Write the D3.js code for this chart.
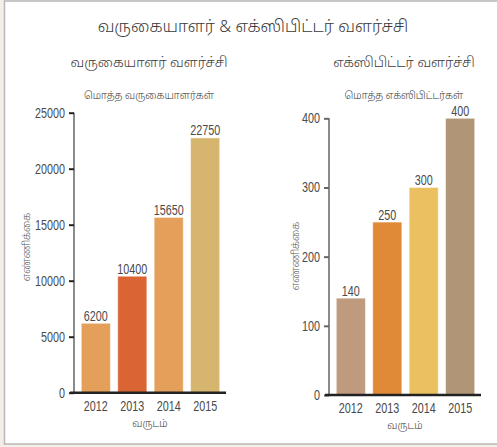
<!DOCTYPE html>
<html lang="ta">
<head>
    <meta charset="UTF-8">
    <title>வருகையாளர் & எக்ஸிபிட்டர் வளர்ச்சி</title>
    <style>
        body { margin: 0; background: #f4eee9; }
        svg { display: block; }
        .num { font-family: 'Liberation Sans', Arial, sans-serif; font-size: 14px; fill: #4a4a4a; }
        .ta { font-family: 'Noto Sans Tamil', 'Lohit Tamil', 'Noto Sans', sans-serif; fill: #3a3a3a; font-weight: 300; }
    </style>
</head>
<body>
    <div id='chart'></div>

    <script src='https://cdnjs.cloudflare.com/ajax/libs/d3/7.8.5/d3.min.js'></script>
    <script type='text/javascript'>
        const years = ['2012', '2013', '2014', '2015'];
        const visitors = [6200, 10400, 15650, 22750];
        const exhibitors = [140, 250, 300, 400];
        const visitorColors = ['#e4a05a', '#db6434', '#e4a05a', '#d6b56e'];
        const exhibitorColors = ['#bf9a7e', '#e08a38', '#eac060', '#b09576'];
        const visitorTicks = [0, 5000, 10000, 15000, 20000, 25000];
        const exhibitorTicks = [0, 100, 200, 300, 400];

        const width = 497;
        const height = 447;
        const squeeze = 0.77;   // numbers in the original use a narrow face

        let svg = d3.select('#chart')
                    .append('svg')
                      .attr('width', width)
                      .attr('height', height);

        // white panel with grey edge
        svg.append('rect')
            .attr('x', 4.5).attr('y', 1)
            .attr('width', width + 10).attr('height', 443)
            .attr('fill', '#fff')
            .attr('stroke', '#b8b8b8')
            .attr('stroke-width', 1.5);

        svg.append('text')
            .attr('class', 'ta')
            .attr('x', 253).attr('y', 32)
            .attr('text-anchor', 'middle')
            .style('font-size', '16.5px')
            .text('வருகையாளர் & எக்ஸிபிட்டர் வளர்ச்சி');

        function drawChart(opt) {
            let g = svg.append('g');

            let x = d3.scaleBand().domain(years)
                        .range([opt.left, opt.left + 153])
                        .paddingInner(0.2).paddingOuter(0.2);
            let y = d3.scaleLinear().domain([0, d3.max(opt.ticks)])
                        .range([opt.bottom, opt.top]);

            let cx = opt.left + 76;

            g.append('text').attr('class', 'ta')
                .attr('x', cx - 1).attr('y', 67)
                .attr('text-anchor', 'middle')
                .style('font-size', '13.5px')
                .text(opt.title);

            g.append('text').attr('class', 'ta')
                .attr('x', cx - 1).attr('y', 99)
                .attr('text-anchor', 'middle')
                .style('font-size', '10px')
                .text(opt.subtitle);

            // bars
            g.selectAll('rect.bar')
                .data(opt.values)
                .enter()
              .append('rect')
                .attr('class', 'bar')
                .attr('x', (d, i) => x(years[i]))
                .attr('y', d => y(d))
                .attr('width', x.bandwidth())
                .attr('height', d => y(0) - y(d))
                .attr('fill', (d, i) => opt.colors[i])
                .attr('stroke', 'rgba(255,255,255,0.5)')
                .attr('stroke-width', 1);

            g.selectAll('text.val')
                .data(opt.values)
                .enter()
              .append('text')
                .attr('class', 'val num')
                .attr('transform', (d, i) => `translate(${x(years[i]) + x.bandwidth() / 2}, ${y(d) - 2.5}) scale(${squeeze}, 1)`)
                .attr('text-anchor', 'middle')
                .text(d => d);

            // y axis
            let yAxis = g.append('g')
                .attr('transform', `translate(${opt.left}, 0)`)
                .call(d3.axisLeft(y).tickValues(opt.ticks).tickFormat(d3.format('d')).tickSize(5).tickPadding(4));
            yAxis.select('.domain')
                .attr('d', `M0,${opt.bottom}V${opt.top}`)
                .attr('stroke', '#8a8a8a')
                .attr('stroke-width', 2);
            yAxis.selectAll('.tick line')
                .attr('stroke', opt.tickColor)
                .attr('stroke-width', 2);
            yAxis.selectAll('.tick text')
                .attr('class', 'num')
                .attr('x', -9 / squeeze)
                .attr('transform', `scale(${squeeze}, 1)`);

            // x axis
            let xAxis = g.append('g')
                .attr('transform', `translate(0, ${opt.bottom})`)
                .call(d3.axisBottom(x).tickSize(0).tickPadding(8));
            xAxis.select('.domain')
                .attr('d', `M${opt.left - 4},0H${opt.left + 152}`)
                .attr('stroke', '#222')
                .attr('stroke-width', 2.5);
            xAxis.selectAll('.tick text')
                .attr('class', 'num')
                .attr('transform', `scale(${squeeze}, 1)`);

            g.append('text').attr('class', 'ta')
                .attr('x', cx).attr('y', opt.bottom + 34)
                .attr('text-anchor', 'middle')
                .style('font-size', '10px')
                .text('வருடம்');

            g.append('text').attr('class', 'ta')
                .attr('transform', `translate(${opt.ylabelX}, ${opt.ylabelY}) rotate(-90)`)
                .attr('text-anchor', 'middle')
                .style('font-size', '10px')
                .style('fill', '#555')
                .text('எண்ணிக்கை');
        }

        drawChart({
            left: 74, top: 112.7, bottom: 392.7,
            values: visitors, colors: visitorColors, ticks: visitorTicks,
            title: 'வருகையாளர் வளர்ச்சி',
            subtitle: 'மொத்த வருகையாளர்கள்',
            tickColor: '#222',
            ylabelX: 30, ylabelY: 247
        });

        drawChart({
            left: 329, top: 118.3, bottom: 395,
            values: exhibitors, colors: exhibitorColors, ticks: exhibitorTicks,
            title: 'எக்ஸிபிட்டர் வளர்ச்சி',
            subtitle: 'மொத்த எக்ஸிபிட்டர்கள்',
            tickColor: '#666',
            ylabelX: 299, ylabelY: 256
        });
    </script>
</body>
</html>
